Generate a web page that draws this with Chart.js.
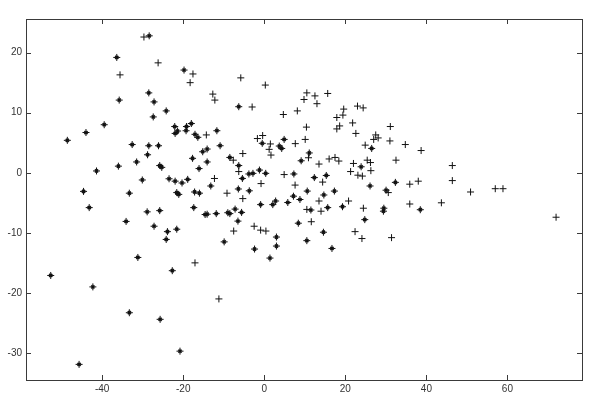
<!DOCTYPE html>
<html>
<head>
<meta charset="utf-8">
<script src="https://cdn.jsdelivr.net/npm/chart.js@4/dist/chart.umd.min.js"></script>
<style>
  html, body { margin: 0; padding: 0; background: #fff; }
  #grafico { display: block; }
</style>
</head>
<body>
<canvas id="grafico" width="600" height="405"></canvas>
<script>
// pontos "+" simples
const plusX = [-29.7, -26.2, -35.6,
  -17.6, -18.3, -5.8, 0.25, -12.7, -12.2, -3.0, 10.5, 9.8, 8.15, 4.7, 10.4, -14.3, -1.7, -0.4, 1.5, 7.65, 10.1,
  -5.3, 1.2, 1.65, -7.65, -6.3, -12.3, -9.2, -5.3, -0.8, 4.9, 7.6, 10.5, -7.55, -2.5, -0.9, 0.4, -17.1, 10.9,
  -11.2,
  13.5, 16.0, 17.45, 18.4, 22.0, 25.4, 26.2, 26.3, 21.3, 23.1, 24.2, 32.5, 24.9, 31.0, 34.8, 38.7, 14.4, 13.5, 20.8, 14.0,
  11.6, 24.45, 22.4, 24.1, 30.6, 35.9, 38.0, 35.9, 43.7, 31.4,
  12.5, 15.65, 13.0, 19.6, 19.4, 17.9, 23.0, 24.4, 21.8, 18.6, 17.9, 22.6, 27.5, 28.1, 27.0, 31.1,
  46.4, 46.4, 50.9, 57.0, 58.9, 72.0];
const plusY = [22.6, 18.3, 16.3,
  16.45, 15.0, 15.8, 14.6, 13.1, 12.1, 10.95, 13.3, 12.2, 10.3, 9.7, 7.6, 6.3, 5.7, 6.2, 4.8, 4.85, 5.55,
  3.2, 3.9, 2.95, 2.1, 0.2, -0.95, -3.4, -4.3, -1.8, -0.3, -2.05, -6.1, -9.7, -8.9, -9.55, -9.7, -15.0, 2.5,
  -21.0,
  1.45, 2.3, 2.55, 1.95, 1.55, 2.1, 1.7, 0.35, 0.2, -0.4, -0.55, 2.1, 4.6, 5.3, 4.7, 3.7, -1.55, -4.7, -4.7, -6.4,
  -8.15, -5.9, -9.8, -10.95, -3.3, -1.9, -1.4, -5.2, -5.0, -10.8,
  12.8, 13.2, 11.5, 10.6, 9.6, 9.2, 11.1, 10.8, 8.3, 7.8, 7.3, 6.55, 6.3, 5.8, 5.55, 7.7,
  1.2, -1.3, -3.2, -2.65, -2.65, -7.4];

// pontos "*" (cruz com centro cheio)
const starX = [-28.4, -36.4, -28.5, -35.8, -27.2, -24.2, -27.4, -39.5, -44.0, -48.6,
  -32.6, -28.5, -26.1, -28.8, -31.5, -36.0, -25.8, -25.3, -41.4, -30.1, -23.5,
  -44.6, -33.3, -43.2, -28.9, -25.8, -34.1, -27.2, -23.9, -24.2, -31.2,
  -52.7, -42.3, -33.3, -25.7, -45.7, -22.7, -20.8,
  -19.8, -6.3, -22.1, -22.0, -21.4, -19.2, -18.0, -19.3, -17.1, -16.4, -11.7, -0.5, 4.9,
  -10.9, -15.2, -14.1, 3.7, 4.3, -17.7, -14.1, -16.1, -8.5, -6.3, -5.4, -13.2, -22.0, -20.3, -18.9,
  -21.6, -21.1, -17.2, -16.0, -6.4, -3.8, -2.8, -1.2, 0.35, -3.7, -0.9, 2.1, 2.8, 5.8, 7.3, 7.2, 8.8,
  10.6, 9.1, 8.4, 10.5, -17.4, -14.6, -14.1, -11.85, -9.0, -8.5, -7.2, -5.6, -6.5, 3.0, 3.0, -2.4, 1.4,
  -9.9, -21.6,
  11.1, 23.9, 26.5, 12.35, 15.3, 14.7, 17.3, 19.3, 15.65, 11.5, 14.6, 16.7, 24.8, 29.5, 29.4, 26.1,
  30.05, 32.35, 38.5];
const starY = [22.8, 19.2, 13.3, 12.1, 11.8, 10.3, 9.3, 8.0, 6.7, 5.4,
  4.7, 4.5, 4.5, 3.0, 1.8, 1.1, 1.2, 0.9, 0.3, -1.2, -1.0,
  -3.1, -3.4, -5.8, -6.5, -6.3, -8.1, -8.9, -9.8, -11.1, -14.1,
  -17.1, -19.0, -23.3, -24.4, -31.9, -16.3, -29.7,
  17.1, 11.0, 7.7, 6.55, 6.95, 7.7, 8.2, 7.0, 6.4, 5.9, 7.0, 4.9, 5.55,
  4.5, 3.5, 3.95, 4.45, 4.05, 2.4, 1.8, 0.7, 2.55, 1.2, -0.95, -2.2, -1.4, -1.7, -1.1,
  -3.3, -3.6, -3.2, -3.4, -2.7, -0.2, -0.1, 0.45, -0.1, -3.0, -5.3, -5.3, -4.7, -4.95, -0.2, -3.9, -4.45,
  -3.05, 2.0, -8.4, -11.3, -5.8, -6.95, -6.9, -6.8, -6.65, -6.8, -6.05, -6.6, -8.05, -10.7, -12.2, -12.7, -14.2,
  -11.5, -9.4,
  3.3, 1.0, 4.05, -0.8, -0.45, -3.7, -3.05, -5.65, -5.8, -6.2, -9.9, -12.6, -7.8, -5.9, -6.4, -2.2,
  -2.9, -1.6, -6.15];

// marcas dos eixos
const xTicks = [-40, -20, 0, 20, 40, 60];
const yTicks = [-30, -20, -10, 0, 10, 20];
const xMin = -58.8, xMax = 78.4;
const yMin = -34.5, yMax = 25.6;

function pares(xs, ys) {
    return xs.map(function (v, i) { return { x: v, y: ys[i] }; });
}

// caixa e marcas internas, estilo MATLAB
const caixa = {
    id: "caixa",
    afterDraw: function (chart) {
        const ctx = chart.ctx;
        const a = chart.chartArea;
        const sx = chart.scales.x, sy = chart.scales.y;
        ctx.save();
        ctx.strokeStyle = "#3a3a3a";
        ctx.lineWidth = 1;
        ctx.strokeRect(Math.round(a.left) + 0.5, Math.round(a.top) + 0.5,
            Math.round(a.right - a.left), Math.round(a.bottom - a.top));
        ctx.beginPath();
        xTicks.forEach(function (t) {
            const p = Math.round(sx.getPixelForValue(t)) + 0.5;
            ctx.moveTo(p, a.bottom); ctx.lineTo(p, a.bottom - 5);
            ctx.moveTo(p, a.top); ctx.lineTo(p, a.top + 5);
        });
        yTicks.forEach(function (t) {
            const p = Math.round(sy.getPixelForValue(t)) + 0.5;
            ctx.moveTo(a.left, p); ctx.lineTo(a.left + 5, p);
            ctx.moveTo(a.right, p); ctx.lineTo(a.right - 5, p);
        });
        ctx.stroke();
        ctx.restore();
    }
};

const fonte = { family: "'Liberation Sans', Arial, sans-serif", size: 10 };

new Chart(document.getElementById("grafico").getContext("2d"), {
    type: "scatter",
    data: {
        datasets: [{
            data: pares(plusX, plusY),
            pointStyle: "cross",
            pointRadius: 3.5,
            pointBorderWidth: 1,
            borderColor: "#111",
            backgroundColor: "#111",
        }, {
            data: pares(starX, starY),
            pointStyle: "cross",
            pointRadius: 3.5,
            pointBorderWidth: 1,
            borderColor: "#111",
            backgroundColor: "#111",
        }, {
            data: pares(starX, starY),
            pointStyle: "crossRot",
            pointRadius: 2.2,
            pointBorderWidth: 1.6,
            borderColor: "#111",
            backgroundColor: "#111",
        }],
    },
    options: {
        responsive: false,
        animation: false,
        devicePixelRatio: 1,
        layout: { padding: { top: 19, right: 18, left: 0, bottom: 0 } },
        plugins: { legend: { display: false }, tooltip: { enabled: false } },
        scales: {
            x: {
                type: "linear",
                min: xMin, max: xMax,
                afterBuildTicks: function (s) { s.ticks = xTicks.map(function (v) { return { value: v }; }); },
                afterFit: function (s) { s.height = 25; },
                grid: { display: false, drawTicks: false },
                border: { display: false },
                ticks: { font: fonte, color: "#333", padding: 3, maxRotation: 0 },
            },
            y: {
                type: "linear",
                min: yMin, max: yMax,
                afterBuildTicks: function (s) { s.ticks = yTicks.map(function (v) { return { value: v }; }); },
                afterFit: function (s) { s.width = 26; },
                grid: { display: false, drawTicks: false },
                border: { display: false },
                ticks: { font: fonte, color: "#333", padding: 4 },
            },
        },
    },
    plugins: [caixa],
});
</script>
</body>
</html>
